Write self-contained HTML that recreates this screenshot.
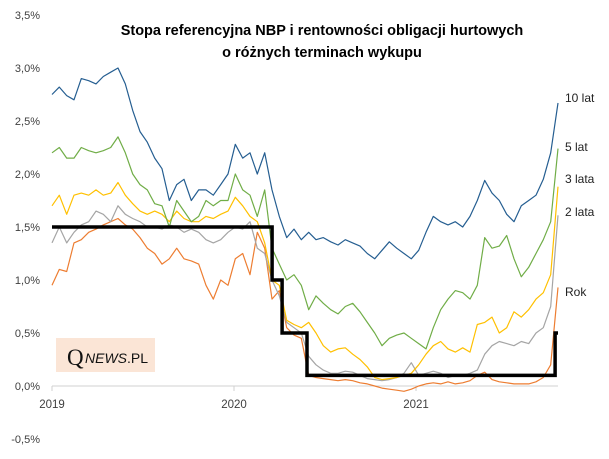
<!DOCTYPE html>
<html><head><meta charset="utf-8">
<style>
html,body{margin:0;padding:0;background:#fff;}
body{width:609px;height:454px;overflow:hidden;font-family:"Liberation Sans",sans-serif;}
svg text{font-family:"Liberation Sans",sans-serif;}
</style></head>
<body>
<svg id="chart" width="609" height="454" viewBox="0 0 609 454">
  <text x="322" y="35" text-anchor="middle" font-size="14.5" font-weight="bold" fill="#000">Stopa referencyjna NBP i rentowności obligacji  hurtowych</text>
  <text x="322" y="57" text-anchor="middle" font-size="14.5" font-weight="bold" fill="#000">o różnych terminach wykupu</text>
  <g id="yaxis"></g>
  <g id="xaxis"></g>
  <g>
    <rect x="56" y="338" width="99" height="34" fill="#fbe5d6"/>
    <text x="67" y="365" font-size="23" fill="#111" style="font-family:'Liberation Serif',serif">Q</text>
    <text x="85" y="363" font-size="14" fill="#111"><tspan font-style="italic">NEWS</tspan>.PL</text>
  </g>
  <g id="series"></g>
  <g id="labels"></g>
</svg>
<script>
const yTicks = [3.5, 3.0, 2.5, 2.0, 1.5, 1.0, 0.5, 0.0, -0.5];
const yTickLabels = ["3,5%","3,0%","2,5%","2,0%","1,5%","1,0%","0,5%","0,0%","-0,5%"];
const xTicks = [0, 1, 2];
const xTickLabels = ["2019","2020","2021"];
const endYear = 2.78;

const y10 = [2.75,2.82,2.74,2.7,2.9,2.88,2.85,2.92,2.96,3.0,2.85,2.6,2.4,2.3,2.15,2.05,1.75,1.9,1.95,1.75,1.85,1.85,1.8,1.9,2.0,2.28,2.15,2.2,2.0,2.2,1.85,1.6,1.4,1.48,1.38,1.45,1.38,1.4,1.36,1.33,1.38,1.35,1.32,1.25,1.2,1.28,1.36,1.3,1.25,1.2,1.28,1.45,1.6,1.55,1.52,1.55,1.5,1.6,1.75,1.94,1.82,1.75,1.62,1.55,1.7,1.75,1.8,1.95,2.2,2.67];
const y5 = [2.2,2.25,2.15,2.15,2.25,2.22,2.2,2.22,2.25,2.35,2.2,2.0,1.9,1.85,1.72,1.7,1.5,1.75,1.65,1.55,1.6,1.75,1.7,1.75,1.75,2.0,1.85,1.8,1.6,1.85,1.3,1.15,1.0,1.05,0.95,0.72,0.85,0.78,0.72,0.68,0.75,0.78,0.7,0.6,0.5,0.38,0.45,0.48,0.5,0.45,0.4,0.35,0.55,0.72,0.82,0.9,0.88,0.82,0.95,1.4,1.3,1.32,1.42,1.2,1.03,1.12,1.25,1.38,1.55,2.24];
const y3 = [1.7,1.8,1.62,1.8,1.82,1.8,1.85,1.8,1.82,1.92,1.8,1.72,1.65,1.62,1.65,1.62,1.55,1.65,1.58,1.55,1.55,1.6,1.58,1.62,1.65,1.78,1.7,1.6,1.55,1.35,1.0,0.95,0.62,0.58,0.55,0.6,0.5,0.38,0.32,0.35,0.36,0.3,0.25,0.18,0.08,0.06,0.07,0.08,0.1,0.12,0.2,0.3,0.38,0.42,0.35,0.32,0.36,0.32,0.58,0.6,0.65,0.5,0.55,0.7,0.65,0.72,0.82,0.88,1.05,1.88];
const y2 = [1.35,1.5,1.35,1.45,1.52,1.55,1.65,1.62,1.55,1.7,1.62,1.58,1.55,1.5,1.5,1.48,1.52,1.5,1.45,1.48,1.45,1.38,1.35,1.38,1.45,1.5,1.48,1.55,1.3,1.25,1.0,0.85,0.6,0.55,0.5,0.28,0.2,0.15,0.12,0.12,0.14,0.13,0.1,0.07,0.06,0.05,0.06,0.08,0.12,0.22,0.1,0.12,0.14,0.12,0.08,0.1,0.1,0.12,0.15,0.3,0.38,0.42,0.4,0.38,0.42,0.4,0.5,0.55,0.75,1.61];
const y1 = [0.95,1.1,1.08,1.35,1.38,1.45,1.48,1.52,1.55,1.58,1.52,1.48,1.4,1.3,1.25,1.15,1.2,1.3,1.2,1.18,1.15,0.95,0.82,1.0,0.95,1.2,1.25,1.05,1.45,1.3,0.82,0.9,0.55,0.48,0.45,0.1,0.08,0.07,0.06,0.05,0.06,0.05,0.03,0.02,0.0,-0.02,-0.03,-0.04,-0.05,-0.03,0.0,0.02,0.03,0.02,0.04,0.02,0.03,0.05,0.1,0.13,0.06,0.04,0.03,0.02,0.02,0.02,0.04,0.08,0.2,0.93];
const refDates = [0, 1.209, 1.264, 1.401, 2.764];
const refRates = [1.5, 1.0, 0.5, 0.1, 0.5];

const X0 = 52, X1 = 558, Y0 = 386, PXPER = 106;
const xYear = t => X0 + t * (X1 - X0) / endYear;
const xIdx = i => X0 + i * (X1 - X0) / (y10.length - 1);
const yV = v => Y0 - v * PXPER;
const NS = "http://www.w3.org/2000/svg";
function mk(tag, attrs, parent){const e=document.createElementNS(NS,tag);for(const k in attrs)e.setAttribute(k,attrs[k]);parent.appendChild(e);return e;}

const ya = document.getElementById('yaxis');
yTicks.forEach((v,i)=>{
  const t = mk('text',{x:40,y:yV(v)+4,'text-anchor':'end','font-size':11,fill:'#404040'},ya);
  t.textContent = yTickLabels[i];
  
  
});
const xa = document.getElementById('xaxis');
const base = mk('line',{x1:X0,y1:Y0,x2:X1,y2:Y0,stroke:'#d0d0d0','stroke-width':1},xa);


xTicks.forEach((v,i)=>{
  const x = xYear(v);
  const tk = mk('line',{x1:x,y1:Y0,x2:x,y2:Y0+5,stroke:'#d0d0d0'},xa);
  
  
  const t = mk('text',{x:x,y:Y0+22,'text-anchor':'middle','font-size':11.5,fill:'#404040'},xa);
  t.textContent = xTickLabels[i];
  
  
});

const sg = document.getElementById('series');
function line(vals, color, name){
  const d = vals.map((v,i)=>(i?'L':'M')+xIdx(i).toFixed(1)+','+yV(v).toFixed(1)).join('');
  const p = mk('path',{d:d,fill:'none',stroke:color,'stroke-width':1.2,'stroke-linejoin':'round'},sg);
  
  
}
line(y1,'#ed7d31','series-1-year');
line(y2,'#a5a5a5','series-2-years');
line(y3,'#ffc000','series-3-years');
line(y5,'#70ad47','series-5-years');
line(y10,'#255e91','series-10-years');
let rd = '';
refDates.forEach((t,i)=>{
  const xe = xYear(i < refDates.length-1 ? refDates[i+1] : endYear);
  rd += (i?'L':'M') + xYear(t).toFixed(1)+','+yV(refRates[i]).toFixed(1) + 'L' + xe.toFixed(1)+','+yV(refRates[i]).toFixed(1);
});
const rp = mk('path',{d:rd,fill:'none',stroke:'#000','stroke-width':3.5},sg);



const lg = document.getElementById('labels');
[["10 lat",102],["5 lat",151],["3 lata",183],["2 lata",216],["Rok",296]].forEach(a=>{
  const t = mk('text',{x:565,y:a[1],'font-size':12,fill:'#222'},lg);
  t.textContent = a[0];
  
  
});
</script>
</body></html>
